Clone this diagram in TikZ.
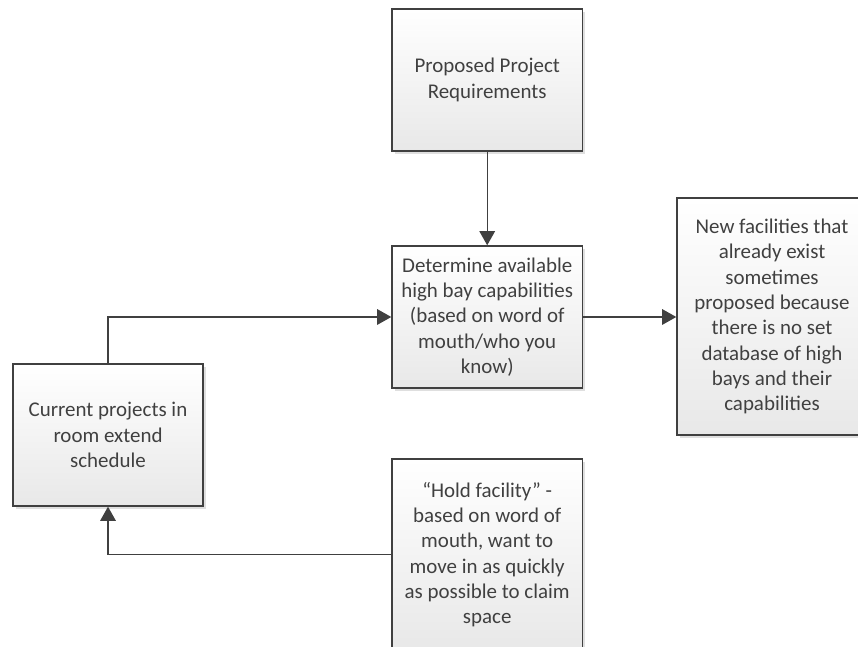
\documentclass[tikz,border=0pt]{standalone}
\usepackage{fontspec}
\setmainfont{Carlito}
\usetikzlibrary{arrows.meta,shadows}
\definecolor{darkline}{HTML}{404040}

\begin{document}
\begin{tikzpicture}[
	box/.style={draw=darkline, line width=1pt, top color=white, bottom color=black!9, text=darkline, align=center, inner sep=0pt,
		drop shadow={shadow xshift=2pt, shadow yshift=-2pt, fill=black!25, opacity=.5},
		font=\fontsize{14.9}{18}\selectfont},
	flow/.style={draw=darkline, line width=0.9pt, -{Triangle[length=10pt,width=11pt]}}
	]
		\useasboundingbox (0,0) rectangle (21.45,16.175);
		\clip (0,0) rectangle (21.45,16.175);
		\node[box, minimum width=4.76cm, minimum height=3.55cm] (prop) at (12.18,14.175) {Proposed Project\\Requirements};
		\node[box, minimum width=4.76cm, minimum height=3.55cm] (determ) at (12.18,8.25) {Determine available\\high bay capabilities\\(based on word of\\mouth/who you\\know)};
		\node[box, minimum width=4.75cm, minimum height=5.925cm] (newfac) at (19.3,8.2625) {New facilities that\\already exist\\sometimes\\proposed because\\there is no set\\database of high\\bays and their\\capabilities};
		\node[box, minimum width=4.75cm, minimum height=3.55cm] (current) at (2.7,5.3) {Current projects in\\room extend\\schedule};
		\node[box, minimum width=4.76cm, minimum height=4.775cm] (hold) at (12.18,2.3125) {“Hold facility” -\\based on word of\\mouth, want to\\move in as quickly\\as possible to claim\\space};
		\draw[flow] (prop) -- (determ);
		\draw[flow] (determ.east) -- (determ.east -| newfac.west);
		\draw[flow] (current.north) |- (determ.west);
		\draw[flow] (hold.west) -| (current.south);
\end{tikzpicture}
\end{document}
